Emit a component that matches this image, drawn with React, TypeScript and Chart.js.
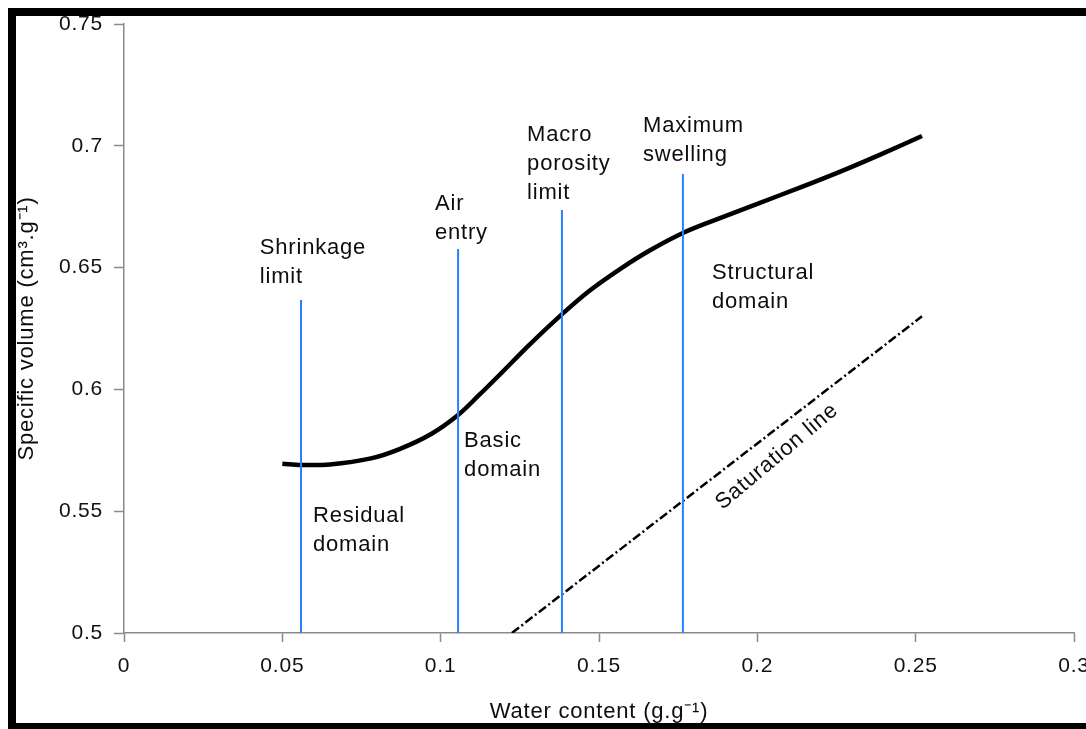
import React, { useEffect, useRef } from 'react';
import { Chart, registerables } from 'chart.js';

Chart.register(...registerables);

// ---------- data ----------
const curveX = [0.05, 0.056, 0.065, 0.078, 0.087, 0.097, 0.1055, 0.112, 0.119, 0.128, 0.138, 0.147, 0.157, 0.166, 0.1765, 0.188, 0.2, 0.213, 0.226, 0.239, 0.252];
const curveY = [0.5695, 0.569, 0.5692, 0.5717, 0.5755, 0.5817, 0.5895, 0.5975, 0.6065, 0.6183, 0.6305, 0.6405, 0.6497, 0.657, 0.6642, 0.6702, 0.6762, 0.6826, 0.6893, 0.6965, 0.704];

const saturationX = [0.1225, 0.252];
const saturationY = [0.5, 0.63];

const limitNames = ['Shrinkage limit', 'Air entry', 'Macro porosity limit', 'Maximum swelling'];
const limitX = [0.0559, 0.1055, 0.1383, 0.1765];
const limitTop = [0.6367, 0.6576, 0.6736, 0.6884];
const limitBottom = 0.5;

const xTickLabels = ['0', '0.05', '0.1', '0.15', '0.2', '0.25', '0.3'];
const yTickLabels = ['0.5', '0.55', '0.6', '0.65', '0.7', '0.75'];

const noteLines = [
  ['Shrinkage', 'limit'],
  ['Air', 'entry'],
  ['Macro', 'porosity', 'limit'],
  ['Maximum', 'swelling'],
  ['Structural', 'domain'],
  ['Basic', 'domain'],
  ['Residual', 'domain'],
];
const noteX = [0.0429, 0.0982, 0.1273, 0.1639, 0.1857, 0.1074, 0.0597];
const noteY = [0.658, 0.6761, 0.7044, 0.7081, 0.6478, 0.5788, 0.548];

const saturationLabel = 'Saturation line';
const saturationLabelX = 0.2062;
const saturationLabelY = 0.5724;

const xTitle = 'Water content (g.g\u207B\u00B9)';
const yTitle = 'Specific volume (cm\u00B3.g\u207B\u00B9)';

// ---------- style ----------
const FONT = "'Liberation Sans', Arial, Helvetica, sans-serif";
const SPACING = '0.8px';
const AXIS_GRAY = '#8a8a8a';
const BLUE = '#2a7fff';
const TEXT = '#0d0d0d';

const notesPlugin = {
  id: 'notes',
  beforeDraw(chart: any) {
    (chart.ctx as any).letterSpacing = SPACING;
  },
  afterDatasetsDraw(chart: any) {
    const { ctx, scales } = chart;
    const xs = scales.x;
    const ys = scales.y;
    ctx.save();
    (ctx as any).letterSpacing = SPACING;
    ctx.font = `22px ${FONT}`;
    ctx.fillStyle = TEXT;
    ctx.textBaseline = 'middle';
    ctx.textAlign = 'left';
    noteLines.forEach((lines, i) => {
      const px = xs.getPixelForValue(noteX[i]);
      const py = ys.getPixelForValue(noteY[i]);
      lines.forEach((t, j) => ctx.fillText(t, px, py + j * 29));
    });
    ctx.translate(xs.getPixelForValue(saturationLabelX), ys.getPixelForValue(saturationLabelY));
    ctx.rotate((-40 * Math.PI) / 180);
    ctx.textAlign = 'center';
    ctx.fillText(saturationLabel, 0, 0);
    ctx.restore();
  },
};

export default function App() {
  const ref = useRef<HTMLCanvasElement | null>(null);

  useEffect(() => {
    if (!ref.current) return;
    const limitSets = limitX.map((lx, i) => ({
      label: limitNames[i],
      data: [
        { x: lx, y: limitBottom },
        { x: lx, y: limitTop[i] },
      ],
      borderColor: BLUE,
      borderWidth: 2,
      pointRadius: 0,
      order: 0,
    }));
    const chart = new Chart(ref.current, {
      type: 'line',
      data: {
        datasets: [
          ...limitSets,
          {
            label: 'Shrinkage curve',
            data: curveX.map((x, i) => ({ x, y: curveY[i] })),
            borderColor: '#000',
            borderWidth: 4.5,
            pointRadius: 0,
            tension: 0.35,
            order: 1,
          },
          {
            label: 'Saturation line',
            data: saturationX.map((x, i) => ({ x, y: saturationY[i] })),
            borderColor: '#000',
            borderWidth: 2.5,
            borderDash: [9, 3, 2, 3],
            pointRadius: 0,
            order: 2,
          },
        ] as any,
      },
      options: {
        animation: false,
        responsive: false,
        devicePixelRatio: 1,
        layout: { padding: { left: 0, top: 24, right: 36, bottom: 0 } },
        plugins: { legend: { display: false }, tooltip: { enabled: false } },
        scales: {
          x: {
            type: 'linear',
            min: 0,
            max: 0.3,
            afterFit: (s: any) => {
              s.height = 96;
            },
            afterBuildTicks: (s: any) => {
              s.ticks = xTickLabels.map((_, i) => ({ value: i * 0.05 }));
            },
            border: { color: AXIS_GRAY, width: 1.5 },
            grid: { drawOnChartArea: false, drawTicks: true, tickLength: 9, tickColor: AXIS_GRAY, tickWidth: 1.5 },
            ticks: {
              autoSkip: false,
              maxRotation: 0,
              padding: 12,
              color: '#111',
              font: { family: FONT, size: 21 },
              callback: (_v: any, i: number) => xTickLabels[i],
            },
            title: {
              display: true,
              text: xTitle,
              color: TEXT,
              font: { family: FONT, size: 22 },
              padding: { top: 0, bottom: 4 },
            },
          },
          y: {
            type: 'linear',
            min: 0.5,
            max: 0.75,
            afterFit: (s: any) => {
              s.width = 124;
            },
            afterBuildTicks: (s: any) => {
              s.ticks = yTickLabels.map((_, i) => ({ value: 0.5 + i * 0.05 }));
            },
            border: { color: AXIS_GRAY, width: 1.5 },
            grid: { drawOnChartArea: false, drawTicks: true, tickLength: 10, tickColor: AXIS_GRAY, tickWidth: 1.5 },
            ticks: {
              autoSkip: false,
              padding: 11,
              color: '#111',
              font: { family: FONT, size: 21 },
              callback: (_v: any, i: number) => yTickLabels[i],
            },
            title: {
              display: true,
              text: yTitle,
              color: TEXT,
              font: { family: FONT, size: 22 },
              padding: { top: 14, bottom: 0 },
            },
          },
        },
      } as any,
      plugins: [notesPlugin],
    });
    return () => chart.destroy();
  }, []);

  return (
    <div style={{ position: 'fixed', left: 0, top: 0, width: 1086, height: 729, overflow: 'hidden', background: '#fff' }}>
      <canvas ref={ref} width={1110} height={729} style={{ position: 'absolute', left: 0, top: 0, width: 1110, height: 729 }} />
      <div
        style={{
          position: 'absolute',
          left: 8,
          top: 8,
          width: 1110,
          height: 723,
          boxSizing: 'border-box',
          borderTop: '8px solid #000',
          borderLeft: '8px solid #000',
          borderBottom: '8px solid #000',
          pointerEvents: 'none',
        }}
      />
    </div>
  );
}
